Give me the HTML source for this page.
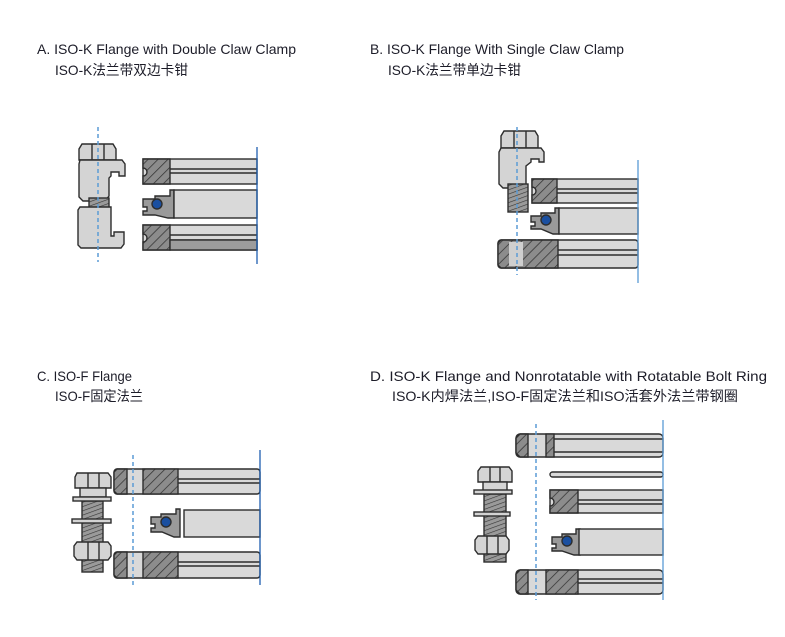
<!DOCTYPE html>
<html><head><meta charset="utf-8"><style>
html,body{margin:0;padding:0;background:#fff}
svg{display:block}
text{font-family:"Liberation Sans","Noto Sans CJK SC",sans-serif;font-size:14px;fill:#1c1c28}
</style></head><body>
<svg width="785" height="637" viewBox="0 0 785 637" xmlns="http://www.w3.org/2000/svg">
<defs>
<pattern id="h" width="7" height="7" patternUnits="userSpaceOnUse" patternTransform="rotate(45)">
<rect width="7" height="7" fill="#8c8c8c"/><line x1="0" y1="0" x2="0" y2="7" stroke="#333" stroke-width="1.5"/>
</pattern>
<pattern id="t" width="4" height="4" patternUnits="userSpaceOnUse" patternTransform="rotate(-20)">
<rect width="4" height="4" fill="#9a9a9a"/><line x1="0" y1="0" x2="4" y2="0" stroke="#333" stroke-width="1.2"/>
</pattern>
</defs>
<g stroke="#2d2d2d" stroke-width="1.4">

<!-- ===== A ===== -->
<text x="37" y="54" stroke="none" textLength="259" lengthAdjust="spacingAndGlyphs">A. ISO-K Flange with Double Claw Clamp</text>
<text x="55" y="75" stroke="none" textLength="133" lengthAdjust="spacingAndGlyphs">ISO-K法兰带双边卡钳</text>
<!-- claw -->
<path d="M82 144 h31 l3 5 v11 h-37 v-11z" fill="#d4d4d4"/>
<line x1="92" y1="144" x2="92" y2="160"/><line x1="104" y1="144" x2="104" y2="160"/>
<path d="M80 160 h42 l3 4 v12 h-6 v-4 h-8 v4 l-2 2 v18 l-4 5 h-22 l-4 -4 v-33z" fill="#d4d4d4"/>
<rect x="89" y="198" width="20" height="10" fill="url(#t)"/>
<path d="M80 207 h31 v29 h3 v-4 h10 v12 l-3 4 h-40 l-3 -3 v-35z" fill="#d4d4d4"/>
<!-- top flange -->
<rect x="143" y="159" width="114" height="25" fill="#d9d9d9"/>
<path d="M143 159 h27 v25 h-27 v-8 a3 3 0 0 0 0 -8z" fill="url(#h)"/>
<line x1="170" y1="169" x2="257" y2="169"/><line x1="170" y1="173" x2="257" y2="173"/>
<!-- middle -->
<path d="M143 199 h12 v-3 h15 v-6 h4 v28 h-6 l-13 -3 h-12 v-4 h4 v-4 h-4z" fill="#9a9a9a"/>
<rect x="174" y="190" width="83" height="28" fill="#d9d9d9"/>
<circle cx="157" cy="204" r="5" fill="#1a4fa0"/>
<!-- bottom flange -->
<rect x="143" y="225" width="114" height="25" fill="#d9d9d9"/>
<path d="M143 225 h27 v25 h-27 v-8 a3 3 0 0 0 0 -8z" fill="url(#h)"/>
<line x1="170" y1="235" x2="257" y2="235"/><line x1="170" y1="240" x2="257" y2="240"/>
<rect x="170" y="240" width="87" height="10" fill="#9c9c9c"/>
</g>
<line x1="98" y1="127" x2="98" y2="262" stroke="#5b9bd5" stroke-width="1.5" stroke-dasharray="4,3"/>
<line x1="257" y1="147" x2="257" y2="264" stroke="#1f5fb0" stroke-width="1.3"/>

<g stroke="#2d2d2d" stroke-width="1.4">
<!-- ===== B ===== -->
<text x="370" y="54" stroke="none" textLength="254" lengthAdjust="spacingAndGlyphs">B. ISO-K Flange With Single Claw Clamp</text>
<text x="388" y="75" stroke="none" textLength="133" lengthAdjust="spacingAndGlyphs">ISO-K法兰带单边卡钳</text>
<path d="M504 131 h31 l3 5 v12 h-37 v-12z" fill="#d4d4d4"/>
<line x1="514" y1="131" x2="514" y2="148"/><line x1="526" y1="131" x2="526" y2="148"/>
<path d="M501 148 h40 l3 4 v10 h-5 v-3 h-8 v3 l-5 4 v18 l-3 4 h-20 l-4 -4 v-32z" fill="#d4d4d4"/>
<rect x="508" y="184" width="20" height="28" fill="url(#t)"/>
<rect x="532" y="179" width="106" height="24" fill="#d9d9d9"/>
<path d="M532 179 h25 v24 h-25 v-8 a3 3 0 0 0 0 -8z" fill="url(#h)"/>
<line x1="557" y1="189" x2="638" y2="189"/><line x1="557" y1="193" x2="638" y2="193"/>
<path d="M531 216 h10 v-3 h14 v-5 h4 v26 h-6 l-12 -5 h-10 v-3 h4 v-4 h-4z" fill="#9a9a9a"/>
<rect x="559" y="208" width="79" height="26" fill="#d9d9d9"/>
<circle cx="546" cy="220" r="5" fill="#1a4fa0"/>
<rect x="498" y="240" width="140" height="28" rx="3" fill="#d9d9d9"/>
<path d="M501 240 h57 v28 h-57 l-3 -3 v-22z" fill="url(#h)"/>
<rect x="509" y="242" width="14" height="24" fill="#cfcfcf" stroke="none"/>
<line x1="558" y1="250" x2="638" y2="250"/><line x1="558" y1="255" x2="638" y2="255"/>
</g>
<line x1="517" y1="127" x2="517" y2="275" stroke="#5b9bd5" stroke-width="1.5" stroke-dasharray="4,3"/>
<line x1="638" y1="160" x2="638" y2="283" stroke="#5b9bd5" stroke-width="1.3"/>

<g stroke="#2d2d2d" stroke-width="1.4">
<!-- ===== C ===== -->
<text x="37" y="381" stroke="none" textLength="95" lengthAdjust="spacingAndGlyphs">C. ISO-F Flange</text>
<text x="55" y="401" stroke="none" textLength="88" lengthAdjust="spacingAndGlyphs">ISO-F固定法兰</text>
<path d="M77 473 h31 l3 4 v11 h-36 v-11z" fill="#d4d4d4"/>
<line x1="88" y1="473" x2="88" y2="488"/><line x1="99" y1="473" x2="99" y2="488"/>
<rect x="80" y="488" width="26" height="9" fill="#d4d4d4"/>
<rect x="82" y="501" width="21" height="71" fill="url(#t)"/>
<rect x="73" y="497" width="38" height="4" fill="#d4d4d4"/>
<rect x="72" y="519" width="39" height="4" fill="#d4d4d4"/>
<path d="M77 542 h31 l3 4 v10 l-3 4 h-31 l-3 -4 v-10z" fill="#d4d4d4"/>
<line x1="88" y1="542" x2="88" y2="560"/><line x1="99" y1="542" x2="99" y2="560"/>
<rect x="114" y="469" width="146" height="25" rx="3" fill="#d9d9d9"/>
<path d="M117 469 h10 v25 h-10 l-3 -3 v-19z" fill="url(#h)"/>
<rect x="143" y="469" width="35" height="25" fill="url(#h)"/>
<line x1="178" y1="479" x2="260" y2="479"/><line x1="178" y1="483" x2="260" y2="483"/>
<path d="M151 517 h10 v-3 h15 v-5 h4 v28 h-6 l-12 -5 h-11 v-4 h4 v-4 h-4z" fill="#9a9a9a"/>
<rect x="184" y="510" width="76" height="27" fill="#d9d9d9"/>
<circle cx="166" cy="522" r="5" fill="#1a4fa0"/>
<rect x="114" y="552" width="146" height="26" rx="3" fill="#d9d9d9"/>
<path d="M117 552 h10 v26 h-10 l-3 -3 v-20z" fill="url(#h)"/>
<rect x="143" y="552" width="35" height="26" fill="url(#h)"/>
<line x1="178" y1="562" x2="260" y2="562"/><line x1="178" y1="566" x2="260" y2="566"/>
</g>
<line x1="133" y1="455" x2="133" y2="585" stroke="#5b9bd5" stroke-width="1.5" stroke-dasharray="4,3"/>
<line x1="260" y1="450" x2="260" y2="585" stroke="#1f5fb0" stroke-width="1.3"/>

<g stroke="#2d2d2d" stroke-width="1.4">
<!-- ===== D ===== -->
<text x="370" y="381" stroke="none" textLength="397" lengthAdjust="spacingAndGlyphs">D. ISO-K Flange and Nonrotatable with Rotatable Bolt Ring</text>
<text x="392" y="401" stroke="none" textLength="346" lengthAdjust="spacingAndGlyphs">ISO-K内焊法兰,ISO-F固定法兰和ISO活套外法兰带钢圈</text>
<path d="M481 467 h28 l3 4 v11 h-34 v-11z" fill="#d4d4d4"/>
<line x1="490" y1="467" x2="490" y2="482"/><line x1="500" y1="467" x2="500" y2="482"/>
<rect x="483" y="482" width="24" height="9" fill="#d4d4d4"/>
<rect x="484" y="494" width="22" height="68" fill="url(#t)"/>
<rect x="474" y="490" width="38" height="4" fill="#d4d4d4"/>
<rect x="474" y="512" width="36" height="4" fill="#d4d4d4"/>
<path d="M478 536 h28 l3 4 v10 l-3 4 h-28 l-3 -4 v-10z" fill="#d4d4d4"/>
<line x1="487" y1="536" x2="487" y2="554"/><line x1="498" y1="536" x2="498" y2="554"/>
<rect x="516" y="434" width="147" height="23" rx="4" fill="#d9d9d9"/>
<path d="M520 434 h8 v23 h-8 l-4 -4 v-15z" fill="url(#h)"/>
<rect x="546" y="434" width="8" height="23" fill="url(#h)"/>
<line x1="554" y1="439" x2="663" y2="439"/><line x1="554" y1="452" x2="663" y2="452"/>
<rect x="550" y="472" width="113" height="5" rx="2.5" fill="#d9d9d9"/>
<rect x="550" y="490" width="113" height="23" fill="#d9d9d9"/>
<path d="M550 490 h28 v23 h-28 v-7 a3 3 0 0 0 0 -8z" fill="url(#h)"/>
<line x1="578" y1="500" x2="663" y2="500"/><line x1="578" y1="504" x2="663" y2="504"/>
<path d="M552 537 h10 v-3 h14 v-5 h4 v26 h-6 l-12 -4 h-10 v-3 h4 v-4 h-4z" fill="#9a9a9a"/>
<rect x="579" y="529" width="84" height="26" fill="#d9d9d9"/>
<circle cx="567" cy="541" r="5" fill="#1a4fa0"/>
<rect x="516" y="570" width="147" height="24" rx="4" fill="#d9d9d9"/>
<path d="M520 570 h8 v24 h-8 l-4 -4 v-16z" fill="url(#h)"/>
<rect x="546" y="570" width="32" height="24" fill="url(#h)"/>
<line x1="578" y1="579" x2="663" y2="579"/><line x1="578" y1="583" x2="663" y2="583"/>
</g>
<line x1="536" y1="424" x2="536" y2="600" stroke="#5b9bd5" stroke-width="1.5" stroke-dasharray="4,3"/>
<line x1="663" y1="420" x2="663" y2="600" stroke="#5b9bd5" stroke-width="1.3"/>
</svg>
</body></html>
